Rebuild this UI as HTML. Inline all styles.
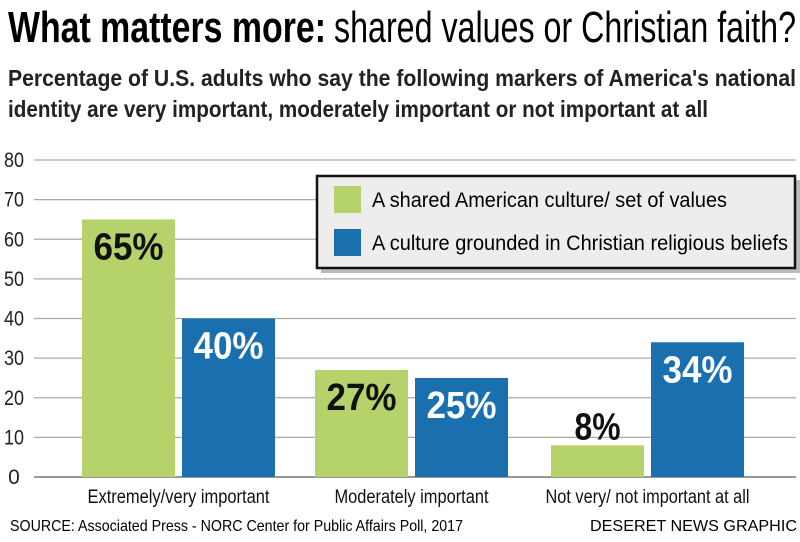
<!DOCTYPE html>
<html><head><meta charset="utf-8"><style>
html,body{margin:0;padding:0;background:#fff;}
svg{display:block;font-family:"Liberation Sans Narrow","Liberation Sans",sans-serif;}
</style></head><body>
<svg id="chart" width="800" height="542" viewBox="0 0 800 542" xmlns="http://www.w3.org/2000/svg">
<text x="8" y="42" font-size="44" font-weight="bold" textLength="318" lengthAdjust="spacingAndGlyphs">What matters more:</text>
<text x="334" y="42" font-size="44" textLength="462" lengthAdjust="spacingAndGlyphs">shared values or Christian faith?</text>
<text x="8" y="86" font-size="23" font-weight="bold" fill="#222" textLength="788" lengthAdjust="spacingAndGlyphs">Percentage of U.S. adults who say the following markers of America's national</text>
<text x="8" y="117" font-size="23" font-weight="bold" fill="#222" textLength="700" lengthAdjust="spacingAndGlyphs">identity are very important, moderately important or not important at all</text>
<g id="grid"></g>
<g id="yticks"></g>
<g id="bars"></g>
<g id="xlabels"></g>
<g>
<rect x="321" y="180" width="479" height="93" fill="#bbb"/>
<rect x="317" y="176" width="478" height="92" fill="#efedeb" stroke="#111" stroke-width="2.5"/>
<rect x="334" y="186" width="27" height="27" fill="#b5d36a"/>
<text x="372" y="207" font-size="21" textLength="355" lengthAdjust="spacingAndGlyphs">A shared American culture/ set of values</text>
<rect x="334" y="229" width="27" height="27" fill="#1a6fae"/>
<text x="372" y="250" font-size="21" textLength="416" lengthAdjust="spacingAndGlyphs">A culture grounded in Christian religious beliefs</text>
</g>
<text x="10" y="531" font-size="16" textLength="453" lengthAdjust="spacingAndGlyphs">SOURCE: Associated Press - NORC Center for Public Affairs Poll, 2017</text>
<text x="590" y="531" font-size="16" textLength="207" lengthAdjust="spacingAndGlyphs">DESERET NEWS GRAPHIC</text>
</svg>
<script>
const categories = ["Extremely/very important", "Moderately important", "Not very/ not important at all"];
const sharedValues = [65, 27, 8];
const christianValues = [40, 25, 34];
const yTicks = [0, 10, 20, 30, 40, 50, 60, 70, 80];

const NS = "http://www.w3.org/2000/svg";
const y0 = 477, yTop = 160, yMax = 80;
const yScale = v => y0 - v / yMax * (y0 - yTop);
const groupStart = [82, 315, 551];
const labelWidths = [182, 154, 204];
const barW = 93, gap = 7;
function mk(tag, attrs, parent, txt) {
  const e = document.createElementNS(NS, tag);
  for (const k in attrs) e.setAttribute(k, attrs[k]);
  if (txt !== undefined) e.textContent = txt;
  parent.appendChild(e);
  return e;
}
const grid = document.getElementById('grid');
const yt = document.getElementById('yticks');
yTicks.forEach(t => {
  const l = mk('line', {x1: 34, x2: 796, y1: yScale(t), y2: yScale(t), stroke: t === 0 ? '#777' : '#aaa', 'stroke-width': t === 0 ? 1.5 : 1.3}, grid);
  
  
  const tx = mk('text', {x: 14, y: yScale(t) + 7, 'font-size': 21, 'text-anchor': 'middle', fill: '#222'}, yt, String(t));
  if (t > 0) { tx.setAttribute('textLength', 20); tx.setAttribute('lengthAdjust', 'spacingAndGlyphs'); }
  
  
});
const bars = document.getElementById('bars');
const xl = document.getElementById('xlabels');
function bar(x, v, color, name, labelColor) {
  const r = mk('rect', {x: x, y: yScale(v), width: barW, height: y0 - yScale(v), fill: color}, bars);
  
  
  const h = y0 - yScale(v);
  let ly, fill = labelColor;
  if (h > 50) { ly = yScale(v) + 40; }
  else { ly = yScale(v) - 6; fill = '#111'; }
  const txt = v + '%';
  const t = mk('text', {x: x + barW / 2, y: ly, 'font-size': 38, 'font-weight': 'bold', 'text-anchor': 'middle', fill: fill, textLength: txt.length > 2 ? 70 : 46, lengthAdjust: 'spacingAndGlyphs'}, bars, txt);
  
  
}
categories.forEach((c, i) => {
  const gx = groupStart[i];
  bar(gx, sharedValues[i], '#b5d36a', 'bar-shared-' + i, '#111');
  bar(gx + barW + gap, christianValues[i], '#1a6fae', 'bar-christian-' + i, '#fff');
  const t = mk('text', {x: gx + barW + gap / 2, y: 503, 'font-size': 19, 'text-anchor': 'middle', fill: '#111', textLength: labelWidths[i], lengthAdjust: 'spacingAndGlyphs'}, xl, c);
  
  
});
</script>
</body></html>
